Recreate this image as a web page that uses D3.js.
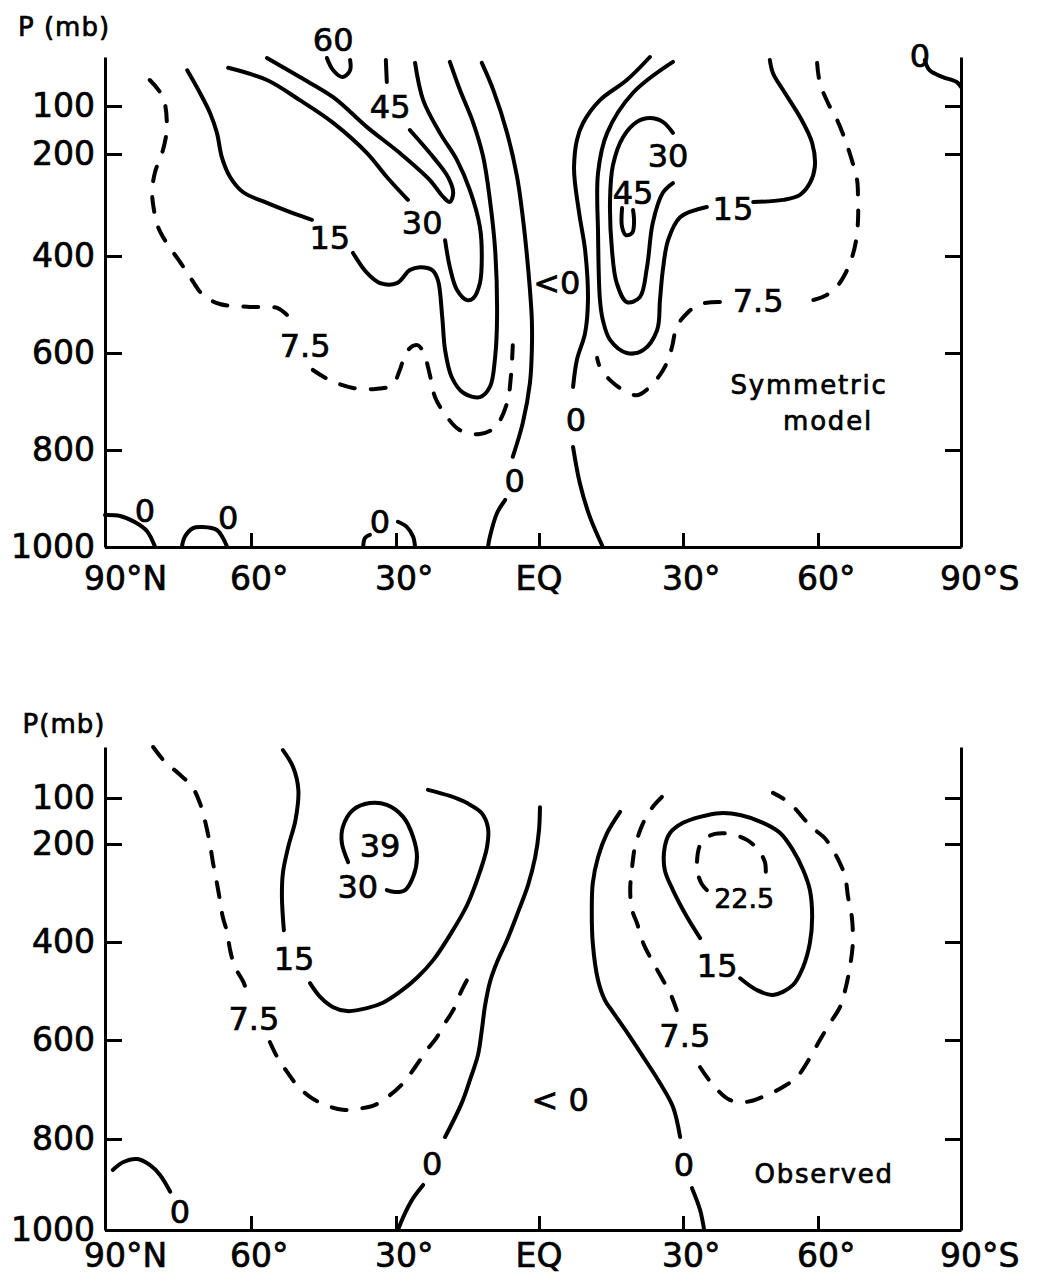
<!DOCTYPE html>
<html>
<head>
<meta charset="utf-8">
<script src="https://cdn.jsdelivr.net/npm/d3@7"></script>
<style>
  body { margin: 0; background: #fff; }
  text { font-family: "DejaVu Sans", sans-serif; fill: #000; stroke: #000; stroke-width: 0.7px; }
</style>
</head>
<body>
<div id="chart"></div>
<script>
var width = 1038,
    height = 1276;

// axes
var latTicks = [90, 60, 30, 0, -30, -60, -90];
var latNames = ["90°N", "60°", "30°", "EQ", "30°", "60°", "90°S"];
var pTicks = [0, 100, 200, 400, 600, 800, 1000];
var pLabels = [100, 200, 400, 600, 800, 1000];
var pRight = [100, 200, 400, 600, 800];

// ---- symmetric model: contour pieces as [lat, p] ----
var sym0N_a = [[12.0,12],[9.6,67],[6.7,156],[4.6,245],[3.4,324],[2.5,402],[1.9,470],[1.5,532],[1.5,594],[1.9,662],[3.4,744],[5.5,814]];
var sym0N_b = [[7.1,903],[8.8,930],[10.3,979],[10.7,1000]];
var sym0S_a = [[-23.1,0],[-18.3,47],[-12.7,88],[-9.2,135],[-7.9,171],[-7.3,225],[-7.5,257],[-8.5,324],[-9.6,388],[-10.2,491],[-9.6,559],[-7.9,614],[-7.1,670]];
var sym0S_b = [[-7.1,794],[-8.5,868],[-10.6,938],[-13.3,1000]];
var sym0Pole = [[-82.4,6],[-83.4,27],[-86.2,41],[-89.1,51],[-90,61]];
var sym0A = [[90,934],[86.9,936],[83.8,949],[81.4,967],[79.7,1000]];
var sym0B = [[74.2,1000],[73.6,979],[71.9,961],[69.9,959],[67.0,965],[65.8,981],[64.9,1000]];
var sym0C_a = [[36.8,1000],[36.4,981],[35.4,975]];
var sym0C_b = [[29.6,948],[27.7,959],[26.4,979],[26.0,1000]];

var sym75N_a = [[80.8,47],[78.1,82],[77.3,144],[78.1,192],[79.7,235],[80.3,271],[80.1,300],[79.1,343],[77.3,375],[74.6,412],[72.1,450],[69.9,480],[66.4,499],[60.2,505],[54.6,507],[52.3,524]];
var sym75N_b = [[47.2,635],[43.7,656],[38.9,672],[34.3,674],[30.8,666],[29.2,635],[28.1,604],[26.6,586],[25.4,584],[24.1,602],[22.9,645],[21.8,691],[19.3,732],[16.6,759],[12.4,767],[9.2,753],[6.7,703],[5.9,649],[5.5,584]];

var sym15N_a = [[73.1,27],[70.5,73],[68.4,115],[67.0,156],[66.0,206],[64.3,245],[61.6,275],[56.7,296],[51.9,314],[47.4,329]];
var sym15N_b = [[38.9,394],[36.0,435],[33.3,456],[29.8,456],[27.1,429],[25.0,423],[22.4,429],[21.2,450],[20.3,526],[19.7,594],[18.3,650],[15.9,682],[12.4,691],[10.3,670],[9.2,608],[8.8,526],[9.2,388],[10.3,290],[11.7,206],[13.8,135],[16.6,67],[18.7,10]];

var sym30N_a = [[64.7,22],[56.7,47],[49.9,88],[43.0,135],[36.0,198],[31.9,245],[27.5,290]];
var sym30N_b = [[19.7,369],[18.7,423],[17.2,470],[15.1,491],[13.8,487],[12.4,456],[12.0,402],[12.4,343],[14.5,271],[17.2,212],[20.8,156],[24.3,88],[26.0,12]];

var sym45N_a = [[56.7,2],[49.9,41],[43.0,82],[36.0,144],[29.2,198],[22.9,251],[20.1,284],[18.7,294],[18.0,276],[19.1,245],[22.2,206],[27.1,150]];
var sym45N_b = [[31.9,51],[32.1,6]];
var sym60N = [[44.3,2],[43.0,27],[41.0,41],[39.5,27],[39.5,6]];

var sym15S_a = [[-27.9,10],[-19.6,73],[-14.2,156],[-12.3,237],[-12.3,355],[-12.7,491],[-13.3,532],[-14.8,573],[-18.3,600],[-21.7,594],[-24.6,553],[-25.2,491],[-25.8,429],[-26.9,369],[-29.4,324],[-35.3,304]];
var sym15S_b = [[-45.6,294],[-52.2,290],[-56.0,280],[-58.2,257],[-59.3,225],[-58.7,177],[-56.0,123],[-52.2,67],[-50.0,33],[-49.3,6]];
var sym30S = [[-27.9,156],[-25.8,133],[-23.1,125],[-20.4,133],[-17.5,165],[-15.4,222],[-14.8,290],[-15.2,388],[-16.2,456],[-18.3,495],[-21.0,485],[-22.5,423],[-23.7,335],[-25.8,276],[-27.9,257]];
var sym45S = [[-17.3,306],[-17.3,343],[-18.1,359],[-19.4,355],[-19.8,335],[-19.6,310]];
var sym75S_a = [[-59.8,12],[-60.4,53],[-62.1,94],[-64.0,129],[-65.7,171],[-67.1,212],[-68.2,251],[-68.4,290],[-68.4,329],[-68.0,369],[-67.1,404],[-65.9,433],[-64.2,460],[-61.5,482],[-57.1,495]];
var sym75S_b = [[-38.2,495],[-33.8,499],[-30.9,518],[-28.7,546],[-27.7,588],[-26.7,619],[-25.2,645],[-23.1,670],[-20.4,687],[-17.5,676],[-14.8,656],[-12.7,629],[-12.1,610]];

var symLines = [
  {level: 0, pts: sym0N_a}, {level: 0, pts: sym0N_b},
  {level: 0, pts: sym0S_a}, {level: 0, pts: sym0S_b},
  {level: 0, pts: sym0Pole}, {level: 0, pts: sym0A}, {level: 0, pts: sym0B},
  {level: 0, pts: sym0C_a}, {level: 0, pts: sym0C_b},
  {level: 7.5, pts: sym75N_a}, {level: 7.5, pts: sym75N_b},
  {level: 15, pts: sym15N_a}, {level: 15, pts: sym15N_b},
  {level: 30, pts: sym30N_a}, {level: 30, pts: sym30N_b},
  {level: 45, pts: sym45N_a}, {level: 45, pts: sym45N_b},
  {level: 60, pts: sym60N},
  {level: 15, pts: sym15S_a}, {level: 15, pts: sym15S_b},
  {level: 30, pts: sym30S}, {level: 45, pts: sym45S},
  {level: 7.5, pts: sym75S_a}, {level: 7.5, pts: sym75S_b}
];

var symLabels = [
  [43.0,-35,"60"],[31.2,102,"45"],[24.5,335,"30"],[43.7,363,"15"],[48.8,584,"7.5"],
  [-3.7,454,"<0"],[5.1,862,"0"],[-7.7,738,"0"],[-26.9,202,"30"],[-19.6,275,"45"],
  [-41.1,306,"15"],[-46.7,491,"7.5"],[-81.4,-4,"0"],[81.8,924,"0"],[64.7,940,"0"],[33.3,948,"0"]
];
var symTitle = [[-58.0,685,"Symmetric"],[-62.1,759,"model"]];

// ---- observed ----
var obs75N_a = [[80.1,0],[77.7,29],[75.0,51],[72.1,78],[70.5,111],[69.4,152],[68.4,202],[67.8,239],[67.0,280],[66.4,314],[65.8,349],[64.9,380],[64.3,416],[63.3,451],[61.6,481],[60.6,508]];
var obs75N_b = [[56.1,604],[54.6,634],[52.5,665],[50.5,691],[47.8,715],[44.7,731],[41.0,741],[37.9,739],[34.3,731],[31.2,711],[28.5,687],[26.0,655],[23.5,620],[21.4,594],[19.7,565],[18.0,539],[16.2,498],[14.5,467]];
var obs15N_a = [[53.4,6],[51.3,39],[50.2,84],[50.8,148],[52.3,206],[53.4,259],[53.6,308],[53.2,376]];
var obs15N_b = [[47.8,484],[45.7,512],[43.0,533],[40.1,541],[36.0,535],[32.7,524],[29.2,502],[25.6,473],[22.2,437],[18.7,386],[15.1,325],[12.4,257],[10.9,206],[10.7,165],[12.0,133],[15.1,111],[18.7,96],[23.3,84]];
var obs30N = [[39.9,237],[41.2,198],[41.0,163],[38.9,126],[35.4,111],[31.9,115],[28.5,141],[26.4,185],[25.6,227],[26.4,267],[28.1,294],[30.2,298],[31.9,294]];
var obs0Pole = [[88.4,868],[86.3,851],[83.4,844],[80.8,857],[78.7,879],[76.6,916]];
var obs0N_a = [[-0.2,120],[0,170],[0.8,227],[2.3,284],[4.4,339],[6.7,396],[8.8,441],[10.3,482],[11.3,529],[12.0,580],[12.8,630],[14.5,681],[16.2,727],[19.7,796]];
var obs0N_b = [[24.3,901],[26.4,930],[28.1,963],[29.6,1000]];
var obs0S_a = [[-16.9,130],[-14.2,176],[-12.3,227],[-11.2,280],[-11.0,335],[-11.2,402],[-12.3,478],[-13.7,518],[-15.4,543],[-18.3,584],[-21.7,634],[-25.2,687],[-27.9,735],[-29.4,796]];
var obs0S_b = [[-32.0,908],[-33.8,956],[-34.7,1000]];
var obs75S_a = [[-25.6,98],[-23.5,122],[-21.5,159],[-20.0,206],[-19.4,247],[-19.0,294],[-19.4,335],[-20.4,361],[-21.7,402],[-23.5,437],[-25.2,467],[-27.3,504],[-28.7,539]];
var obs75S_b = [[-33.8,655],[-36.7,691],[-40.4,721],[-44.2,725],[-48.7,711],[-52.2,695],[-55.3,675],[-58.2,636],[-60.4,600],[-62.5,566],[-64.6,533],[-65.7,498],[-66.7,451],[-67.3,402],[-67.1,349],[-66.3,308],[-65.7,267],[-64.6,239],[-63.1,212],[-61.5,188],[-59.3,169],[-57.5,152],[-53.7,111],[-50.0,90]];
var obs225S = [[-35.3,294],[-34.2,282],[-33.3,261],[-33.1,237],[-33.8,202],[-35.3,186],[-37.1,178],[-40.4,178],[-44.2,191],[-46.7,212],[-48.2,237],[-48.4,259]];
var obs15S = [[-33.8,392],[-30.9,349],[-27.9,294],[-26.2,253],[-26.2,206],[-27.3,176],[-30.0,154],[-33.8,141],[-38.2,133],[-42.7,137],[-47.8,154],[-51.6,176],[-54.4,212],[-56.7,253],[-58.2,294],[-58.7,349],[-58.2,402],[-56.7,451],[-54.4,488],[-50.0,508],[-46.4,498],[-42.7,474]];

var obsLines = [
  {level: 7.5, pts: obs75N_a}, {level: 7.5, pts: obs75N_b},
  {level: 15, pts: obs15N_a}, {level: 15, pts: obs15N_b},
  {level: 30, pts: obs30N}, {level: 0, pts: obs0Pole},
  {level: 0, pts: obs0N_a}, {level: 0, pts: obs0N_b},
  {level: 0, pts: obs0S_a}, {level: 0, pts: obs0S_b},
  {level: 7.5, pts: obs75S_a}, {level: 7.5, pts: obs75S_b},
  {level: 22.5, pts: obs225S}, {level: 15, pts: obs15S}
];

var obsLabels = [
  [59.4,557,"7.5"],[51.1,433,"15"],[33.3,202,"39"],[37.9,286,"30"],[74.6,960,"0"],
  [22.4,853,"0"],[-30.2,855,"0"],[-4.4,721,"< 0"],[-30.4,590,"7.5"],[-37.6,447,"15"],[-43.6,310,"22.5"]
];
var obsTitle = [[-61.3,897,"Observed"]];

var x = d3.scaleLinear().domain(latTicks).range([105, 251, 396, 539, 683, 818, 961]);
var yTop = d3.scaleLinear().domain(pTicks).range([57, 106, 154, 256, 353, 450, 547]);
var yBot = d3.scaleLinear().domain(pTicks).range([747, 798, 844, 942, 1040, 1139, 1230]);

var svg = d3.select("#chart").append("svg")
    .attr("width", width)
    .attr("height", height)

svg.append("rect").attr("width", width).attr("height", height).attr("fill", "#fff");

drawPanel(yTop, symLines, symLabels, symTitle, "P (mb)", 30, 20);
drawPanel(yBot, obsLines, obsLabels, obsTitle, "P(mb)", 23, 14);

function drawPanel(y, lines, labels, title, pName, pGap, xGap) {
  var g = svg.append("g");

  var line = d3.line()
      .x(function(d) { return x(d[0]); })
      .y(function(d) { return y(d[1]); })
      .curve(d3.curveCatmullRom.alpha(0.5));

  g.selectAll("path.contour").data(lines).join("path")
      .attr("class", "contour")
      .attr("d", function(d) { return line(d.pts); })
      .attr("fill", "none")
      .attr("stroke", "#000")
      .attr("stroke-width", 4)
      .attr("stroke-linecap", "round")
      .attr("stroke-linejoin", "round")
      .attr("stroke-dasharray", function(d) { return d.level % 15 ? "15,16" : null; });

  // axes, ticks pointing inward
  var left = g.append("g").attr("transform", "translate(" + x(90) + ",0)")
      .call(d3.axisLeft(y).tickValues(pLabels).tickSize(-17).tickSizeOuter(0)
        .tickPadding(10).tickFormat(d3.format("d")));
  var right = g.append("g").attr("transform", "translate(" + x(-90) + ",0)")
      .call(d3.axisRight(y).tickValues(pRight).tickSize(-16).tickSizeOuter(0).tickFormat(""));
  var bottom = g.append("g").attr("transform", "translate(0," + y(1000) + ")")
      .call(d3.axisBottom(x).tickValues(latTicks.slice(1, -1)).tickSize(-14).tickSizeOuter(0).tickFormat(""));

  [left, right, bottom].forEach(function(a) {
    a.selectAll("path, line").attr("stroke", "#000").attr("stroke-width", 3);
    a.attr("font-size", 33).attr("font-family", null);
  });
  left.selectAll("text").attr("fill", "#000");

  // latitude labels: the numeral sits centred on its tick
  var lab = g.append("g").attr("font-size", 33);
  latTicks.forEach(function(lat, i) {
    var name = latNames[i];
    var num = name.replace(/[^0-9]/g, "");
    var t = lab.append("text").attr("y", y(1000) + xGap).attr("dy", "0.71em");
    if (!num) {
      t.attr("x", x(lat)).attr("text-anchor", "middle").text(name);
      return;
    }
    t.text(num);
    var w = t.node().getComputedTextLength();
    t.attr("x", x(lat) - w / 2).text(name);
  });

  g.append("text")
      .attr("x", 64)
      .attr("y", y(0) - pGap)
      .attr("dy", "0.35em")
      .attr("text-anchor", "middle")
      .attr("font-size", 26)
      .attr("letter-spacing", 1)
      .text(pName);

  g.selectAll("text.clabel").data(labels).join("text")
      .attr("class", "clabel")
      .attr("x", function(d) { return x(d[0]); })
      .attr("y", function(d) { return y(d[1]); })
      .attr("dy", "0.36em")
      .attr("text-anchor", "middle")
      .attr("font-size", function(d) { return d[2].length > 3 && d[2] != "< 0" ? 27 : 32; })
      .text(function(d) { return d[2]; });

  g.selectAll("text.title").data(title).join("text")
      .attr("class", "title")
      .attr("x", function(d) { return x(d[0]); })
      .attr("y", function(d) { return y(d[1]); })
      .attr("text-anchor", "middle")
      .attr("font-size", 26)
      .attr("letter-spacing", 1.8)
      .text(function(d) { return d[2]; });
}
</script>
</body>
</html>
